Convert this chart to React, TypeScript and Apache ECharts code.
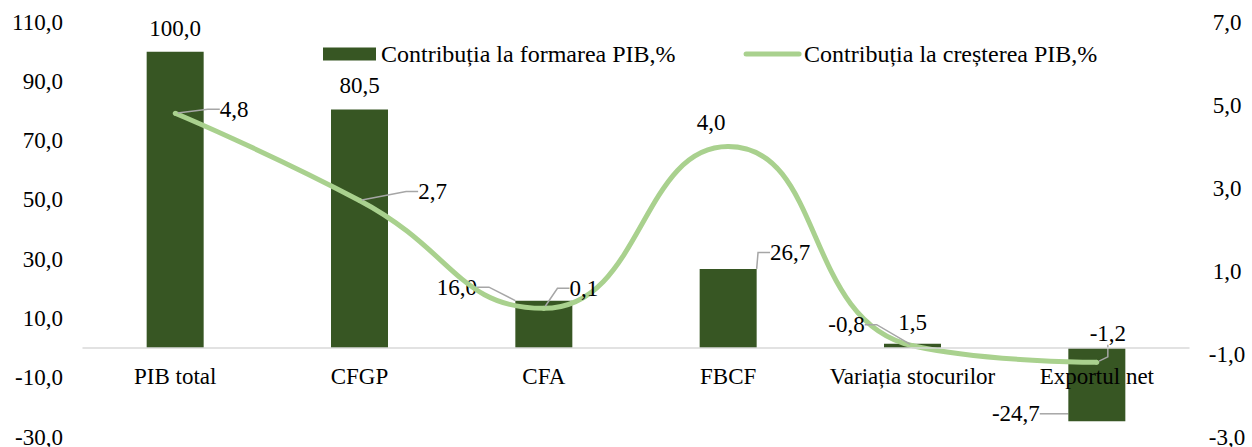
import React, { useEffect, useRef } from "react";
import * as echarts from "echarts";

const categories = ["PIB total", "CFGP", "CFA", "FBCF", "Variația stocurilor", "Exportul net"];
const formationValues = [100.0, 80.5, 16.0, 26.7, 1.5, -24.7];
const growthValues = [4.8, 2.7, 0.1, 4.0, -0.8, -1.2];
const barName = "Contribuția la formarea PIB,%";
const lineName = "Contribuția la creșterea PIB,%";

// label displacement (layout only)
const barLabelShift = [[0, -2], [0, -2], [-87, 8], [62, 5], [0, 0], [-81, -29]];
const barLabelLeader = [false, false, true, true, false, true];
const lineLabelShift = [[59, 15], [73, 10], [40, -1], [-17, -5], [-66, -2], [11, -10]];
const lineLabelLeader = [true, true, true, false, true, true];

const FONT = "Liberation Serif";
const fmt = (v: number) => v.toFixed(1).replace(".", ",");

export default function App() {
  const ref = useRef<HTMLDivElement>(null);
  useEffect(() => {
    if (!ref.current) return;
    const chart = echarts.init(ref.current, undefined, { renderer: "svg" });
    const leaderStyle = { color: "#A6A6A6", width: 1.5 };
    chart.setOption({
      animation: false,
      backgroundColor: "#ffffff",
      textStyle: { fontFamily: FONT },
      grid: { left: 83, right: 63, top: 22, bottom: 10, containLabel: false, outerBoundsMode: "none" },
      legend: {
        left: 318,
        top: 37,
        itemWidth: 53,
        itemHeight: 13,
        itemGap: 68,
        textStyle: { fontFamily: FONT, fontSize: 24, color: "#000" },
        data: [
          { name: barName, icon: "rect" },
          { name: lineName, itemStyle: { opacity: 0 }, lineStyle: { width: 5, cap: "round" } },
        ],
      },
      xAxis: {
        type: "category",
        data: categories,
        z: 5,
        axisLine: { onZero: true, lineStyle: { color: "#D9D9D9", width: 1.5 } },
        axisTick: { show: false },
        axisLabel: { fontFamily: FONT, fontSize: 23, color: "#000", margin: -72, interval: 0 },
      },
      yAxis: [
        {
          type: "value",
          min: -30,
          max: 110,
          interval: 20,
          splitLine: { show: false },
          axisLine: { show: false },
          axisTick: { show: false },
          axisLabel: { fontFamily: FONT, fontSize: 23, color: "#000", margin: 20, formatter: fmt },
        },
        {
          type: "value",
          min: -3,
          max: 7,
          interval: 2,
          position: "right",
          splitLine: { show: false },
          axisLine: { show: false },
          axisTick: { show: false },
          axisLabel: { fontFamily: FONT, fontSize: 23, color: "#000", margin: 38, align: "center", formatter: fmt },
        },
      ],
      series: [
        {
          name: barName,
          type: "bar",
          yAxisIndex: 0,
          barWidth: 57,
          itemStyle: { color: "#375623" },
          data: formationValues.map((v, i) => ({
            value: v,
            label: { position: v < 0 ? "bottom" : "top" },
            labelLine: { show: barLabelLeader[i] },
          })),
          label: {
            show: true,
            distance: 10,
            fontFamily: FONT,
            fontSize: 23,
            color: "#000",
            formatter: (p: any) => fmt(p.value),
          },
          labelLine: { show: false, length2: 12, lineStyle: leaderStyle },
          labelLayout: (p: any) => ({ dx: barLabelShift[p.dataIndex][0], dy: barLabelShift[p.dataIndex][1] }),
        },
        {
          name: lineName,
          type: "line",
          yAxisIndex: 1,
          smooth: 0.5,
          symbol: "circle",
          symbolSize: 5,
          itemStyle: { color: "#A9D18E" },
          lineStyle: { color: "#A9D18E", width: 5 },
          data: growthValues.map((v, i) => ({
            value: v,
            labelLine: { show: lineLabelLeader[i] },
          })),
          label: {
            show: true,
            position: "top",
            distance: 5,
            fontFamily: FONT,
            fontSize: 23,
            color: "#000",
            formatter: (p: any) => fmt(p.value),
          },
          labelLine: { show: false, length2: 12, lineStyle: leaderStyle },
          labelLayout: (p: any) => ({ dx: lineLabelShift[p.dataIndex][0], dy: lineLabelShift[p.dataIndex][1] }),
        },
      ],
    });
    return () => chart.dispose();
  }, []);
  return (
    <div
      ref={ref}
      style={{ position: "fixed", left: 0, top: 0, width: 1252, height: 447, background: "#fff" }}
    />
  );
}
